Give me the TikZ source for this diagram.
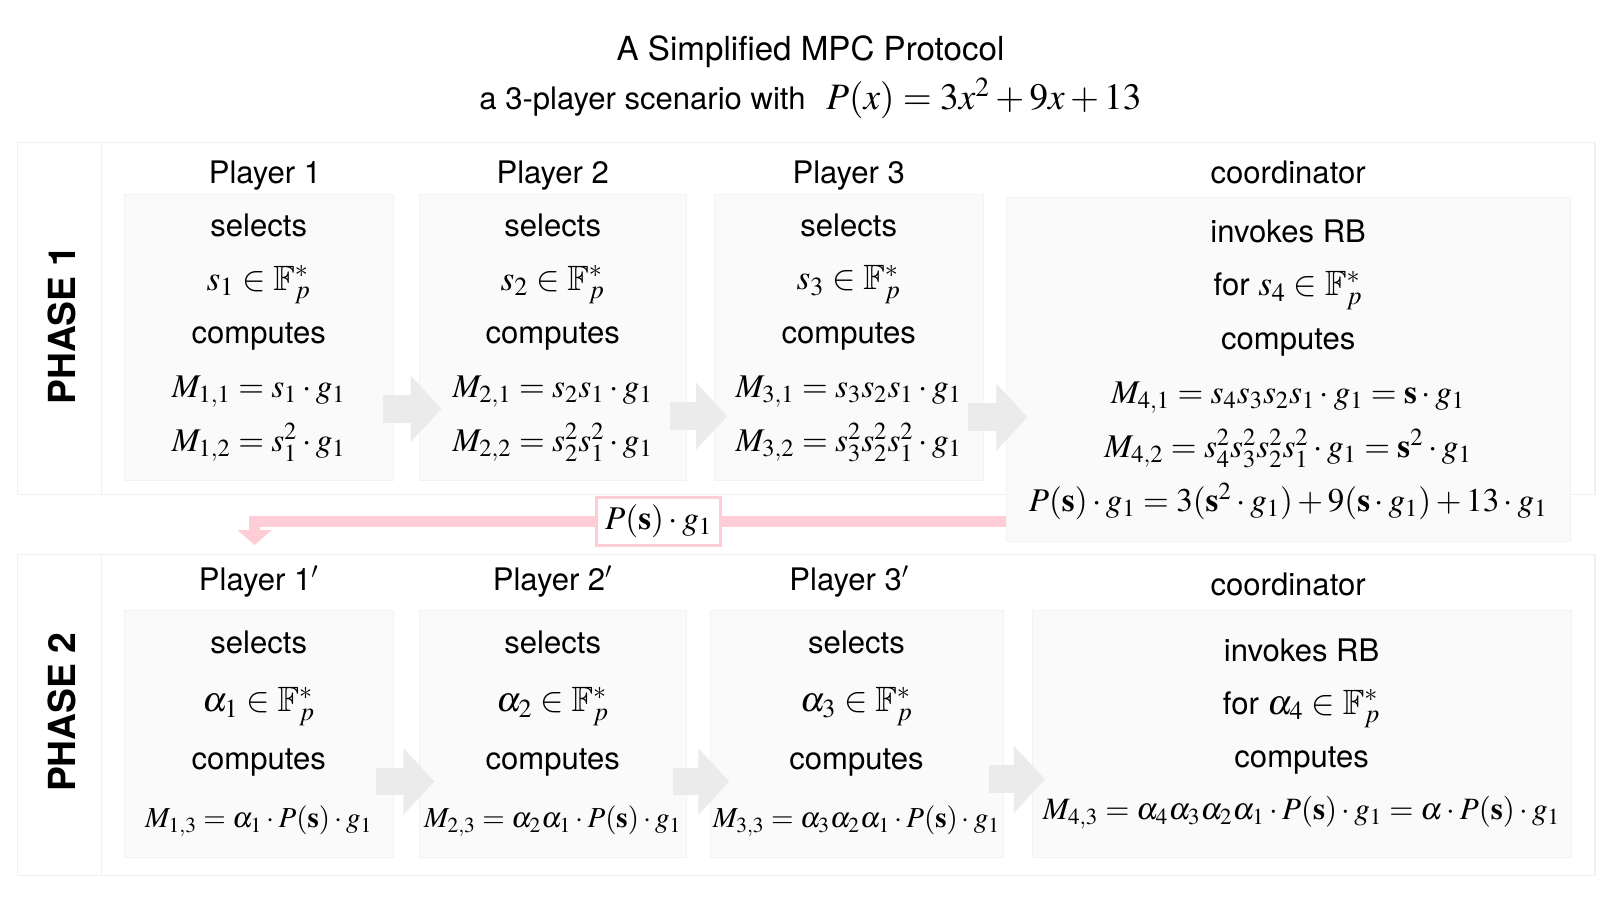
\documentclass[tikz,border=0pt]{standalone}
\usepackage{amsmath,amssymb}
\usepackage{mathptmx}
\usepackage[no-math]{fontspec}
\setmainfont{TeX Gyre Heros}
\usepackage{tikz}
\usetikzlibrary{arrows.meta, positioning, calc}
\definecolor{flowpink}{RGB}{255,205,214}
\newcommand{\mth}[2][16]{{\fontsize{#1}{26}\selectfont$#2$}}

\begin{document}
\begin{tikzpicture}[
  x=0.5pt, y=-0.5pt,
  panel/.style={draw=black!6, fill=white, line width=0.6pt},
  card/.style={rectangle, draw=black!5, fill=black!2, align=center, inner sep=0pt, font=\fontsize{15}{26}\selectfont},
  hdr/.style={inner sep=0pt, text height=11pt, text depth=3pt, font=\fontsize{15}{18}\selectfont},
  phase/.style={rotate=90, inner sep=0pt, font=\bfseries\fontsize{18}{21}\selectfont},
  blk/.style={draw=black!8, line width=13.5pt, -{Triangle[length=15pt, width=31.5pt]}},
  flow/.style={draw=flowpink, line width=5.3pt, -{Triangle[length=7.2pt, width=16pt]}},
  msgbox/.style={draw=flowpink, line width=1.5pt, fill=white, minimum width=60pt, minimum height=23pt, inner sep=0pt}
]
  \useasboundingbox (0,0) rectangle (1568,869);

  % title
  \node[font=\fontsize{16}{19}\selectfont] (title) at (783,50) {A Simplified MPC Protocol};
  \node[font=\fontsize{15}{18}\selectfont] (subtitle) at (783,95) {a 3-player scenario with\hspace{10pt}\mth[18]{P(x)=3x^2+9x+13}};

  % panels
  \draw[panel] (17,138) rectangle (98,478);
  \draw[panel] (98,138) rectangle (1541,478);
  \draw[panel] (17,536) rectangle (98,846);
  \draw[panel] (98,536) rectangle (1541,846);

  \node[phase] (ph1) at (60,314) {PHASE 1};
  \node[phase] (ph2) at (60,688) {PHASE 2};

  % phase 1
  \node[card, minimum width=130pt, minimum height=138pt] (p1) at (250,326)
    {selects\\ \mth[17]{s_1\in\mathbb{F}_p^*}\\ computes\\ \mth{M_{1,1}=s_1\cdot g_1}\\ \mth{M_{1,2}=s_1^2\cdot g_1}};
  \node[card, minimum width=129pt, minimum height=138pt] (p2) at (534,326)
    {selects\\ \mth[17]{s_2\in\mathbb{F}_p^*}\\ computes\\ \mth{M_{2,1}=s_2s_1\cdot g_1}\\ \mth{M_{2,2}=s_2^2s_1^2\cdot g_1}};
  \node[card, minimum width=130pt, minimum height=138pt] (p3) at (820,326)
    {selects\\ \mth[17]{s_3\in\mathbb{F}_p^*}\\ computes\\ \mth{M_{3,1}=s_3s_2s_1\cdot g_1}\\ \mth{M_{3,2}=s_3^2s_2^2s_1^2\cdot g_1}};
  \node[card, minimum width=272.5pt, minimum height=166pt] (c1) at (1244.5,357)
    {invokes RB\\ for \mth[17]{s_4\in\mathbb{F}_p^*}\\ computes\\
     \mth{M_{4,1}=s_4s_3s_2s_1\cdot g_1=\mathbf{s}\cdot g_1}\\
     \mth{M_{4,2}=s_4^2s_3^2s_2^2s_1^2\cdot g_1=\mathbf{s}^2\cdot g_1}\\
     \mth{P(\mathbf{s})\cdot g_1=3(\mathbf{s}^2\cdot g_1)+9(\mathbf{s}\cdot g_1)+13\cdot g_1}};

  \node[hdr, above=2.1pt of p1, xshift=3pt] (h1) {Player 1};
  \node[hdr, above=2.1pt of p2] (h2) {Player 2};
  \node[hdr, above=2.1pt of p3] (h3) {Player 3};
  \node[hdr, above=3.6pt of c1] (hc1) {coordinator};

  % phase 2
  \node[card, minimum width=130pt, minimum height=119pt, font=\fontsize{15}{28}\selectfont] (q1) at (250,709)
    {selects\\ \mth[17]{\alpha_1\in\mathbb{F}_p^*}\\ computes\\ \mth[14]{M_{1,3}=\alpha_1\cdot P(\mathbf{s})\cdot g_1}};
  \node[card, minimum width=129pt, minimum height=119pt, font=\fontsize{15}{28}\selectfont] (q2) at (534,709)
    {selects\\ \mth[17]{\alpha_2\in\mathbb{F}_p^*}\\ computes\\ \mth[14]{M_{2,3}=\alpha_2\alpha_1\cdot P(\mathbf{s})\cdot g_1}};
  \node[card, minimum width=141.5pt, minimum height=119pt, font=\fontsize{15}{28}\selectfont] (q3) at (827.5,709)
    {selects\\ \mth[17]{\alpha_3\in\mathbb{F}_p^*}\\ computes\\ \mth[14]{M_{3,3}=\alpha_3\alpha_2\alpha_1\cdot P(\mathbf{s})\cdot g_1}};
  \node[card, minimum width=260.5pt, minimum height=119pt, font=\fontsize{15}{25.5}\selectfont] (c2) at (1257.5,709)
    {invokes RB\\ for \mth[17]{\alpha_4\in\mathbb{F}_p^*}\\ computes\\
     \mth[15]{M_{4,3}=\alpha_4\alpha_3\alpha_2\alpha_1\cdot P(\mathbf{s})\cdot g_1=\alpha\cdot P(\mathbf{s})\cdot g_1}};

  \node[hdr, above=6.6pt of q1] (h1b) {Player 1$'$};
  \node[hdr, above=6.6pt of q2] (h2b) {Player 2$'$};
  \node[hdr, above=6.6pt of q3, xshift=-3.5pt] (h3b) {Player 3$'$};
  \node[hdr, above=4.1pt of c2, xshift=-6.5pt] (hc2) {coordinator};

  % hand-over arrows
  \draw[blk] ($(p1.east)+(-10,69)$) -- ($(p2.west)+(22,69)$);
  \draw[blk] ($(p2.east)+(-16,76)$) -- ($(p3.west)+(13,76)$);
  \draw[blk] ($(p3.east)+(-15,77)$) -- ($(c1.west)+(21,46)$);
  \draw[blk] ($(q1.east)+(-17,46)$) -- ($(q2.west)+(15,46)$);
  \draw[blk] ($(q2.east)+(-13,46)$) -- ($(q3.west)+(19,46)$);
  \draw[blk] ($(q3.east)+(-14,44)$) -- ($(c2.west)+(13,44)$);

  % result back to phase 2
  \draw[flow] ($(c1.west)+(0,147)$) -| node[msgbox, pos=0.231] (msg) {\mth{P(\mathbf{s})\cdot g_1}} ($(h1b.north)+(-4,-21)$);
\end{tikzpicture}
\end{document}
